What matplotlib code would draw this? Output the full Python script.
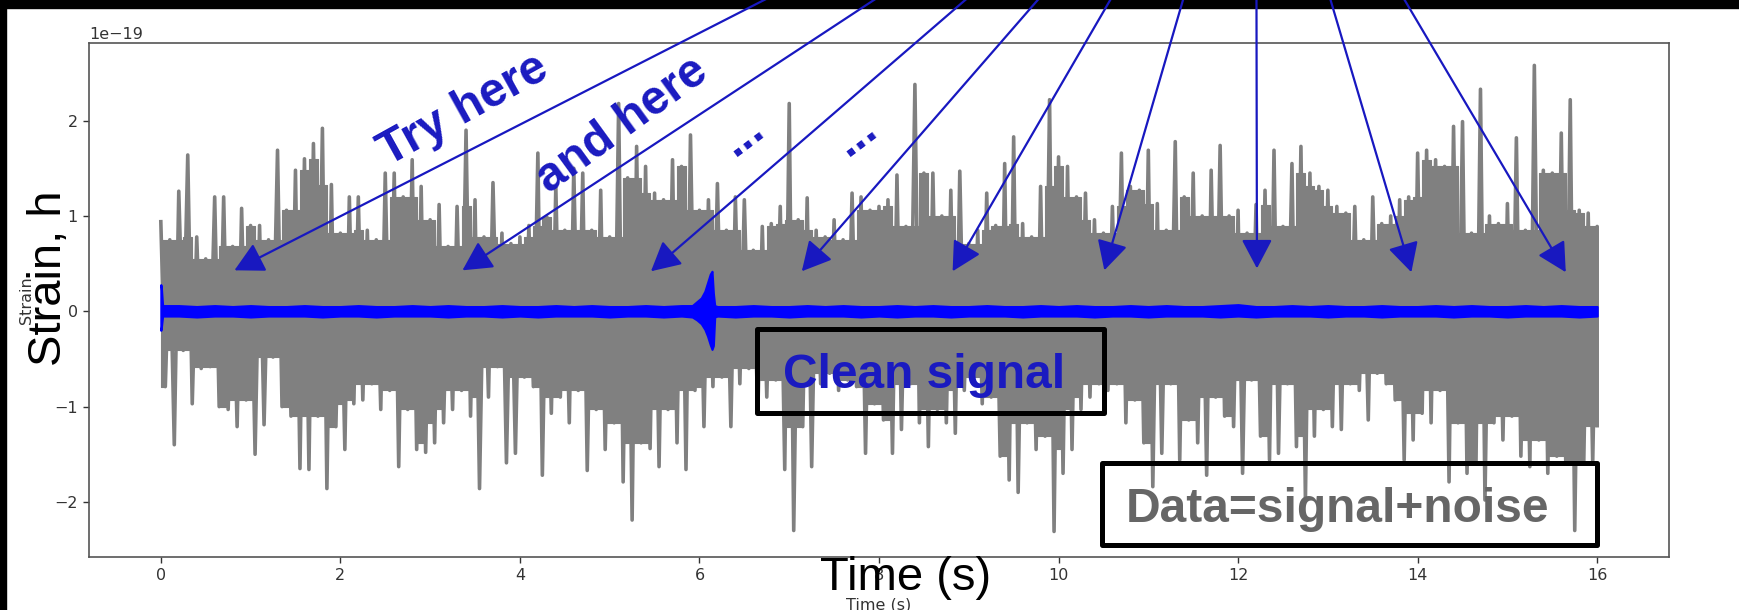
import numpy as np
import matplotlib
matplotlib.use("Agg")
import matplotlib.pyplot as plt
from matplotlib.patches import Rectangle

W, H, DPI = 1739, 610, 100

# ---------------------------------------------------------------------------
# Detector data (signal + noise): per-0.1 s extremes of the strain, in 1e-19
# ---------------------------------------------------------------------------
noise_t = np.linspace(0.0, 16.0, 161)
noise_hi = np.array([
    0.94, 0.75, 1.26, 1.64, 0.78, 0.55, 1.20, 1.20, 0.68, 1.08,
    0.90, 0.90, 0.75, 1.69, 1.06, 1.48, 1.60, 1.76, 1.92, 1.33,
    0.82, 1.20, 1.20, 0.85, 0.75, 1.45, 1.45, 1.20, 1.59, 1.31,
    0.96, 1.12, 0.68, 1.10, 1.90, 1.17, 0.78, 1.35, 0.82, 0.71,
    0.78, 0.90, 1.66, 0.99, 1.31, 0.85, 1.50, 1.45, 0.85, 1.27,
    0.78, 2.18, 1.40, 1.73, 1.52, 1.24, 1.17, 1.59, 1.52, 1.85,
    1.06, 1.17, 1.34, 0.85, 1.20, 1.17, 0.64, 0.89, 0.92, 1.10,
    2.18, 0.96, 1.19, 0.85, 0.78, 0.96, 0.75, 1.24, 1.20, 1.06,
    1.10, 1.17, 1.43, 0.89, 2.38, 1.45, 1.45, 1.00, 1.27, 1.47,
    0.71, 0.85, 1.24, 0.90, 1.55, 1.83, 0.92, 0.78, 1.31, 2.22,
    1.62, 1.52, 1.20, 1.24, 0.96, 0.82, 1.10, 1.66, 1.31, 1.27,
    1.69, 1.13, 0.85, 1.78, 1.20, 1.45, 1.00, 1.48, 1.74, 1.00,
    1.06, 0.82, 1.12, 1.27, 1.69, 0.89, 1.55, 1.73, 1.45, 1.31,
    1.27, 1.10, 1.03, 1.10, 0.75, 1.20, 0.92, 1.00, 1.17, 1.20,
    1.66, 1.69, 1.59, 1.52, 1.94, 1.99, 0.82, 2.33, 1.00, 0.92,
    1.13, 1.82, 0.85, 2.58, 1.48, 1.45, 1.87, 2.22, 1.06, 1.03,
    0.89,
]) * 1e-19
noise_lo = np.array([
    -0.79, -1.40, -0.41, -0.97, -0.60, -0.58, -1.00, -1.03, -1.21, -0.93,
    -1.50, -1.19, -0.48, -1.00, -1.10, -1.65, -1.66, -1.10, -1.86, -1.21,
    -1.45, -0.97, -0.93, -0.76, -1.03, -0.83, -1.63, -1.03, -1.45, -1.48,
    -1.38, -1.17, -1.03, -0.83, -1.10, -1.86, -0.90, -0.58, -1.59, -1.49,
    -0.69, -0.79, -1.72, -1.07, -0.90, -1.17, -0.83, -1.67, -1.03, -1.45,
    -1.17, -1.79, -2.19, -1.38, -1.44, -1.63, -1.03, -1.38, -1.66, -0.83,
    -1.21, -0.79, -0.69, -1.21, -0.76, -0.60, -1.07, -0.90, -0.72, -1.66,
    -2.30, -1.21, -1.63, -0.76, -0.65, -0.83, -0.72, -0.79, -1.49, -0.97,
    -1.14, -1.49, -1.24, -0.76, -1.17, -1.42, -1.03, -1.17, -1.28, -0.83,
    -0.69, -0.97, -0.90, -1.52, -1.77, -1.90, -1.17, -1.45, -1.31, -2.31,
    -1.70, -1.45, -1.03, -0.90, -0.76, -0.83, -0.76, -1.17, -0.93, -1.38,
    -1.84, -1.49, -0.76, -1.56, -1.14, -1.38, -1.72, -0.90, -1.10, -1.21,
    -1.70, -0.72, -1.31, -1.56, -1.49, -0.76, -1.42, -1.98, -1.31, -1.03,
    -1.21, -1.24, -0.76, -0.83, -1.14, -0.65, -0.76, -0.93, -1.56, -1.35,
    -1.07, -1.17, -0.83, -1.79, -1.17, -1.70, -1.59, -1.98, -1.17, -1.35,
    -1.10, -1.52, -1.63, -1.35, -1.70, -1.52, -1.59, -2.30, -1.60, -1.59,
    -1.20,
]) * 1e-19

# ---------------------------------------------------------------------------
# Clean template signal: band extremes every 0.2 s, plus the start transient
# and the chirp near t = 6.1 s (units 1e-19)
# ---------------------------------------------------------------------------
clean_base_t = np.linspace(0.0, 16.0, 81)
clean_base_hi = [
    0.06, 0.06, 0.05, 0.06, 0.05, 0.06, 0.05, 0.05, 0.06, 0.05,
    0.05, 0.06, 0.05, 0.05, 0.06, 0.05, 0.06, 0.05, 0.05, 0.06,
    0.05, 0.05, 0.06, 0.05, 0.06, 0.05, 0.05, 0.06, 0.05, 0.06,
    0.06, 0.05, 0.05, 0.06, 0.05, 0.05, 0.06, 0.05, 0.06, 0.05,
    0.05, 0.06, 0.05, 0.06, 0.05, 0.05, 0.06, 0.05, 0.05, 0.06,
    0.05, 0.06, 0.05, 0.05, 0.06, 0.05, 0.06, 0.05, 0.05, 0.06,
    0.07, 0.05, 0.05, 0.06, 0.05, 0.06, 0.05, 0.05, 0.06, 0.05,
    0.05, 0.06, 0.05, 0.06, 0.05, 0.05, 0.06, 0.05, 0.06, 0.05,
    0.05,
]
clean_base_lo = [
    -0.05, -0.05, -0.06, -0.05, -0.05, -0.06, -0.05, -0.05, -0.05, -0.06,
    -0.05, -0.05, -0.06, -0.05, -0.05, -0.05, -0.06, -0.05, -0.05, -0.06,
    -0.05, -0.06, -0.05, -0.05, -0.05, -0.06, -0.05, -0.05, -0.06, -0.05,
    -0.05, -0.05, -0.06, -0.05, -0.05, -0.06, -0.05, -0.05, -0.05, -0.06,
    -0.05, -0.06, -0.05, -0.05, -0.06, -0.05, -0.05, -0.05, -0.06, -0.05,
    -0.05, -0.05, -0.06, -0.05, -0.05, -0.06, -0.05, -0.05, -0.05, -0.06,
    -0.05, -0.06, -0.05, -0.05, -0.05, -0.06, -0.05, -0.05, -0.06, -0.05,
    -0.05, -0.05, -0.06, -0.05, -0.05, -0.06, -0.05, -0.05, -0.05, -0.06,
    -0.05,
]
onset_t = [0.0, 0.006, 0.02]
onset_hi = [0.28, 0.25, 0.06]
onset_lo = [-0.20, -0.17, -0.05]
chirp_t = [5.92, 5.97, 6.02, 6.06, 6.09, 6.12, 6.14, 6.155, 6.17]
chirp_hi = [0.06, 0.10, 0.14, 0.21, 0.30, 0.39, 0.42, 0.19, 0.06]
chirp_lo = [-0.06, -0.09, -0.13, -0.19, -0.26, -0.35, -0.40, -0.36, -0.06]

# Where the arrows point (time, strain in 1e-19) and their common source
arrow_t = [0.82, 3.36, 5.46, 7.14, 8.82, 10.51, 12.21, 13.93, 15.65]
arrow_h = [0.43, 0.43, 0.42, 0.42, 0.42, 0.43, 0.45, 0.41, 0.41]
arrow_source = (12.2, 5.9)

BLUE_TXT = "#1a1ac0"
GRAY_TXT = "#666666"


def fig_xy(x, y):
    """Pixel position (origin top-left) -> figure fraction."""
    return x / W, 1.0 - y / H


fig = plt.figure(figsize=(W / DPI, H / DPI), dpi=DPI)
fig.patch.set_facecolor("white")

ax = fig.add_axes([89 / W, (H - 557) / H, (1669 - 89) / W, (557 - 43) / H])

# Noisy data.  Around each slice the trace is dense up to the smallest
# extreme of the slice and its two neighbours; the slice's own extreme shows
# as a spike above that.
pad_hi = np.pad(noise_hi, 1, mode="edge")
pad_lo = np.pad(noise_lo, 1, mode="edge")
dense_hi = np.minimum.reduce([pad_hi[:-2], pad_hi[1:-1], pad_hi[2:]])
dense_lo = np.maximum.reduce([pad_lo[:-2], pad_lo[1:-1], pad_lo[2:]])
ax.fill_between(noise_t, dense_lo, dense_hi, step="mid", facecolor="gray",
                edgecolor="gray", lw=0.8, zorder=2)
zig_t = np.column_stack([noise_t, np.minimum(noise_t + 0.05, 16.0)]).ravel()
zig_h = np.column_stack([noise_hi, noise_lo]).ravel()
ax.plot(zig_t, zig_h, color="gray", lw=2.6, solid_joinstyle="round", zorder=2)

# Clean signal band
keep = (clean_base_t > 0.1) & ((clean_base_t < 5.9) | (clean_base_t > 6.19))
ct = np.concatenate([onset_t, clean_base_t[keep], chirp_t])
chi = np.concatenate([onset_hi, np.array(clean_base_hi)[keep], chirp_hi])
clo = np.concatenate([onset_lo, np.array(clean_base_lo)[keep], chirp_lo])
order = np.argsort(ct)
ax.fill_between(ct[order], clo[order] * 1e-19, chi[order] * 1e-19,
                facecolor="blue", edgecolor="blue", lw=1.5, zorder=3)

ax.set_xlim(-0.8, 16.8)
ax.set_ylim(-2.578e-19, 2.815e-19)
ax.tick_params(labelsize=11.5, colors="#333333", length=4.5, width=1.0)
for sp in ax.spines.values():
    sp.set_color("#555555")
    sp.set_linewidth(1.2)
ax.yaxis.get_offset_text().set_fontsize(11.5)
ax.yaxis.get_offset_text().set_color("#333333")

ax.set_xlabel("Time (s)", fontsize=11.5, color="#333333")
ax.set_ylabel("Strain", fontsize=11.5, color="#333333")
ax.xaxis.set_label_coords(0.5, -(597 - 557) / 514)
ax.yaxis.set_label_coords(-(89 - 34) / 1580, 0.5)

# Arrows converging from a common point above the figure
for t, h in zip(arrow_t, arrow_h):
    ax.annotate("", xy=(t, h * 1e-19),
                xytext=(arrow_source[0], arrow_source[1] * 1e-19),
                xycoords="data", textcoords="data", annotation_clip=False,
                arrowprops=dict(arrowstyle="-|>,head_length=1.8,head_width=0.95",
                                mutation_scale=10, color="#1818c0", lw=1.6,
                                shrinkA=0, shrinkB=0), zorder=6)

# Black screen border (left and top)
fig.add_artist(Rectangle((0, 0), 6 / W, 1, transform=fig.transFigure,
                         color="black", zorder=-1))
fig.add_artist(Rectangle((0, 1 - 8 / H), 1, 8 / H, transform=fig.transFigure,
                         color="black", zorder=-1))

# Large axis captions
fig.text(*fig_xy(61, 278.5), "Strain, h", rotation=90, rotation_mode="anchor",
         ha="center", va="baseline", fontsize=34, family="Liberation Sans",
         color="black", zorder=10)
fig.text(*fig_xy(906, 590), "Time (s)", ha="center", va="baseline",
         fontsize=34, family="Liberation Sans", color="black", zorder=10)

# Hand-written style hints
bold = dict(family="Liberation Sans", weight="bold", fontsize=34.5,
            color=BLUE_TXT, rotation_mode="anchor", zorder=10)
fig.text(*fig_xy(464, 110), "Try here", rotation=29, ha="center", va="center", **bold)
fig.text(*fig_xy(622, 125), "and here", rotation=36, ha="center", va="center", **bold)
fig.text(*fig_xy(751, 145), "...", rotation=37, ha="center", va="baseline", **bold)
fig.text(*fig_xy(864, 145), "...", rotation=37, ha="center", va="baseline", **bold)

# Boxed labels
def box(x0, y0, x1, y1):
    fx0, fy1 = fig_xy(x0, y0)
    fx1, fy0 = fig_xy(x1, y1)
    fig.add_artist(Rectangle((fx0, fy0), fx1 - fx0, fy1 - fy0,
                             transform=fig.transFigure, fill=False,
                             edgecolor="black", lw=3.6, joinstyle="round",
                             zorder=9))

box(757, 329, 1104, 413)
fig.text(*fig_xy(783, 388), "Clean signal", ha="left", va="baseline",
         family="Liberation Sans", weight="bold", fontsize=34.5,
         color=BLUE_TXT, zorder=10)

box(1102, 463, 1597, 545)
fig.text(*fig_xy(1126, 522), "Data=signal+noise", ha="left", va="baseline",
         family="Liberation Sans", weight="bold", fontsize=34.5,
         color=GRAY_TXT, zorder=10)

fig.savefig("out.png", dpi=DPI)
